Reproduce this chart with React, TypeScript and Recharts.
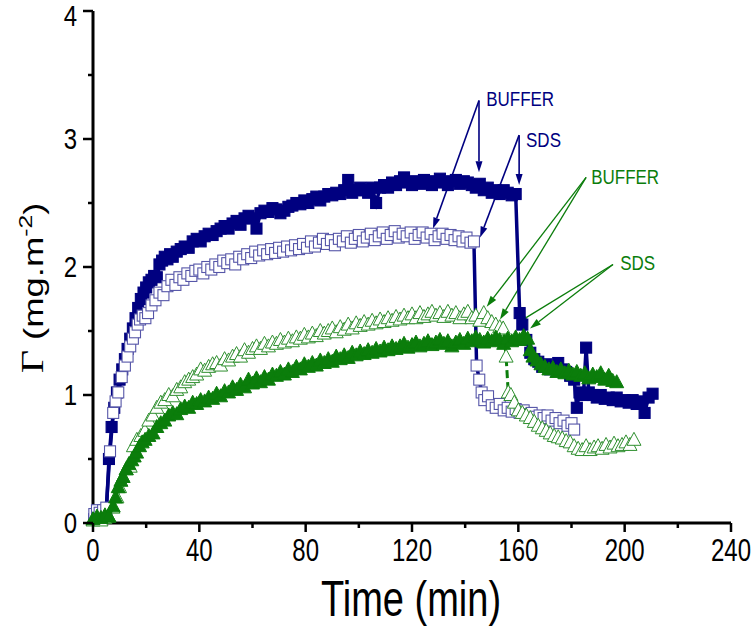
import { ComposedChart, Scatter, XAxis, YAxis, ReferenceLine, ReferenceDot } from "recharts";

const NAVY = "#000080";
const NAVY_LIGHT = "#5656a8";
const GREEN = "#0b7d0b";
const GREEN_LIGHT = "#2f8f2f";
const SANS = "'Liberation Sans', Arial, sans-serif";

// filled squares
const bfT = [0.5, 2, 3.5, 5, 6, 7, 8, 9, 10, 11, 12, 13, 14, 15, 16, 17, 18, 19, 20, 21, 22, 23, 24, 25, 26, 27, 28, 29, 30, 31.5, 33, 34.5, 36, 37.5, 39, 40.5, 42, 43.5, 45, 46.5, 48, 49.5, 51, 52.5, 54, 55.5, 57, 58.5, 60, 61.5, 63, 64.5, 66, 67.5, 69, 70.5, 72, 73.5, 75, 76.5, 78, 79.5, 81, 82.5, 84, 85.5, 87, 88.5, 90, 91.5, 93, 94.5, 96, 97.5, 99, 100.5, 102, 103.5, 105, 106.5, 108, 109.5, 111, 112.5, 114, 115.5, 117, 118.5, 120, 121.5, 123, 124.5, 126, 127.5, 129, 130.5, 132, 133.5, 135, 136.5, 138, 139.5, 141, 142.5, 144, 145.5, 147, 148.5, 150, 151.5, 153, 154.5, 156, 157.5, 159, 160.5, 161.5, 163, 164.5, 166, 167.5, 169, 170.5, 172, 173.5, 175, 176.5, 178, 179.5, 181, 182, 183, 184.5, 185.5, 186.5, 188, 189.5, 191, 192.5, 194, 195.5, 197, 198.5, 200, 201.5, 203, 204.5, 206, 207.5, 209, 210.5];
const bfV = [0.03, 0.05, 0.06, 0.08, 0.5, 0.75, 0.9, 1.02, 1.12, 1.2, 1.28, 1.36, 1.44, 1.52, 1.6, 1.68, 1.75, 1.8, 1.84, 1.88, 1.9, 1.93, 1.92, 2.02, 2.05, 2.08, 2.06, 2.1, 2.08, 2.12, 2.14, 2.16, 2.15, 2.2, 2.22, 2.2, 2.24, 2.26, 2.25, 2.28, 2.3, 2.32, 2.3, 2.34, 2.36, 2.33, 2.38, 2.4, 2.38, 2.3, 2.42, 2.44, 2.43, 2.46, 2.45, 2.42, 2.44, 2.47, 2.48, 2.5, 2.49, 2.52, 2.5, 2.53, 2.55, 2.52, 2.55, 2.57, 2.56, 2.58, 2.57, 2.6, 2.68, 2.58, 2.6, 2.62, 2.6, 2.58, 2.62, 2.5, 2.62, 2.64, 2.62, 2.66, 2.64, 2.67, 2.7, 2.66, 2.64, 2.67, 2.65, 2.68, 2.66, 2.64, 2.67, 2.69, 2.66, 2.64, 2.67, 2.68, 2.65, 2.67, 2.66, 2.64, 2.62, 2.65, 2.6, 2.62, 2.58, 2.6, 2.57, 2.6, 2.58, 2.56, 2.57, 1.64, 1.55, 1.43, 1.33, 1.28, 1.26, 1.22, 1.24, 1.2, 1.22, 1.25, 1.2, 1.18, 1.15, 1.12, 0.9, 1.02, 1.0, 1.37, 1.02, 1.0, 0.98, 1.0, 0.97, 0.98, 0.96, 0.98, 0.95, 0.96, 0.94, 0.96, 0.93, 0.95, 0.86, 0.98, 1.01];

// open squares
const boT = [0.5, 1.5, 2.5, 3.8, 5, 6.4, 7.6, 8.5, 9.5, 10.8, 12, 13, 14, 15, 15.8, 16.8, 17.7, 18.7, 19.7, 20.7, 22, 23.5, 25, 26.5, 28, 29.5, 31, 32.5, 34, 35.5, 37, 38.5, 40, 41.5, 43, 44.5, 46, 47.5, 49, 50.5, 52, 53.5, 55, 56.5, 58, 59.5, 61, 62.5, 64, 65.5, 67, 68.5, 70, 71.5, 73, 74.5, 76, 77.5, 79, 80.5, 82, 83.5, 85, 86.5, 88, 89.5, 91, 92.5, 94, 95.5, 97, 98.5, 100, 101.5, 103, 104.5, 106, 107.5, 109, 110.5, 112, 113.5, 115, 116.5, 118, 119.5, 121, 122.5, 124, 125.5, 127, 128.5, 130, 131.5, 133, 134.5, 136, 137.5, 139, 140.5, 142, 143.3, 144.3, 145.3, 146.2, 147.2, 148.6, 150, 151.5, 153, 154.5, 156, 157.5, 159, 160.5, 162, 163.5, 165, 166.5, 168, 169.5, 171, 172.5, 174, 175.5, 177, 178.5, 180, 181];
const boV = [0.07, 0.1, 0.08, 0.1, 0.12, 0.56, 0.86, 0.95, 1.02, 1.14, 1.23, 1.3, 1.38, 1.44, 1.49, 1.55, 1.59, 1.62, 1.6, 1.64, 1.7, 1.74, 1.8, 1.78, 1.85, 1.9, 1.86, 1.92, 1.9, 1.95, 1.93, 1.97, 1.98, 1.95, 2.0, 1.98, 2.02, 2.0, 2.05, 2.03, 2.06, 2.02, 2.08, 2.06, 2.1, 2.07, 2.12, 2.09, 2.13, 2.1, 2.14, 2.11, 2.15, 2.12, 2.16, 2.13, 2.17, 2.14, 2.18, 2.15, 2.2, 2.16, 2.19, 2.22, 2.18, 2.21, 2.17, 2.22, 2.2, 2.24, 2.19, 2.22, 2.25, 2.2, 2.23, 2.26, 2.21, 2.24, 2.27, 2.22, 2.25, 2.28, 2.23, 2.26, 2.24, 2.27, 2.22, 2.25, 2.27, 2.23, 2.26, 2.21, 2.24, 2.26, 2.22, 2.25, 2.21, 2.24, 2.2, 2.23, 2.19, 2.2, 1.23, 1.12, 1.02, 0.96, 0.99, 0.92, 0.9, 0.93, 0.88, 0.9, 0.87, 0.89, 0.86, 0.88, 0.85, 0.86, 0.83, 0.84, 0.82, 0.84, 0.8, 0.82, 0.78, 0.8, 0.76, 0.78, 0.73];

// open triangles
const goT = [0, 1.5, 3, 4.5, 6, 7.5, 9, 10, 11.3, 12.5, 14, 15.2, 16.5, 18, 19.5, 21, 22.5, 24, 25.5, 27, 28.5, 30, 31.5, 33, 34.5, 36, 37.5, 39, 40.5, 42, 43.5, 45, 46.5, 48, 49.5, 51, 52.5, 54, 55.5, 57, 58.5, 60, 61.5, 63, 64.5, 66, 67.5, 69, 70.5, 72, 73.5, 75, 76.5, 78, 79.5, 81, 82.5, 84, 85.5, 87, 88.5, 90, 91.5, 93, 94.5, 96, 97.5, 99, 100.5, 102, 103.5, 105, 106.5, 108, 109.5, 111, 112.5, 114, 115.5, 117, 118.5, 120, 121.5, 123, 124.5, 126, 127.5, 129, 130.5, 132, 133.5, 135, 136.5, 138, 139.5, 141, 142.5, 144, 145.5, 147, 148.5, 150, 151.5, 153, 154.3, 155.4, 156.2, 157.2, 158.5, 160, 161.5, 163, 164.5, 166, 167.5, 169, 170.5, 172, 173.5, 175, 176.5, 178, 179.5, 181, 182.5, 184, 185.5, 187, 188.5, 190, 191.5, 193, 194.5, 196, 197.5, 199, 200.5, 202, 203.5];
const goV = [0.02, 0.03, 0.02, 0.04, 0.05, 0.12, 0.2, 0.28, 0.36, 0.42, 0.44, 0.6, 0.65, 0.68, 0.72, 0.8, 0.84, 0.9, 0.94, 0.96, 1.0, 0.99, 1.04, 1.06, 1.1, 1.12, 1.14, 1.16, 1.2, 1.19, 1.22, 1.24, 1.25, 1.23, 1.28, 1.27, 1.3, 1.32, 1.3, 1.35, 1.33, 1.36, 1.38, 1.36, 1.4, 1.38, 1.41, 1.4, 1.43, 1.41, 1.44, 1.42, 1.45, 1.44, 1.47, 1.45, 1.48, 1.46, 1.5, 1.48, 1.5, 1.52, 1.49, 1.53, 1.51, 1.55, 1.52, 1.56, 1.54, 1.57, 1.55, 1.58, 1.56, 1.59, 1.57, 1.6, 1.58, 1.61, 1.59, 1.62, 1.6, 1.63, 1.6, 1.64, 1.61, 1.63, 1.65, 1.62, 1.64, 1.61, 1.65, 1.62, 1.64, 1.6, 1.63, 1.65, 1.6, 1.62, 1.58, 1.64, 1.6, 1.57, 1.55, 1.53, 1.52, 1.3, 1.02, 1.0, 0.94, 0.88, 0.86, 0.84, 0.82, 0.79, 0.76, 0.74, 0.72, 0.7, 0.68, 0.67, 0.66, 0.64, 0.63, 0.6, 0.58, 0.57, 0.6, 0.57, 0.59, 0.6, 0.58, 0.61, 0.59, 0.62, 0.6, 0.61, 0.63, 0.61, 0.65];

// filled triangles
const gfT = [0, 1.5, 3, 4.5, 6, 7.6, 8.5, 9.5, 10.5, 11.3, 12.5, 13.5, 14.6, 15.5, 16.4, 17.5, 18.5, 19.6, 21, 22.6, 24, 25.5, 27, 28.5, 30, 31.5, 33, 34.5, 36, 37.5, 39, 40.5, 42, 43.5, 45, 46.5, 48, 49.5, 51, 52.5, 54, 55.5, 57, 58.5, 60, 61.5, 63, 64.5, 66, 67.5, 69, 70.5, 72, 73.5, 75, 76.5, 78, 79.5, 81, 82.5, 84, 85.5, 87, 88.5, 90, 91.5, 93, 94.5, 96, 97.5, 99, 100.5, 102, 103.5, 105, 106.5, 108, 109.5, 111, 112.5, 114, 115.5, 117, 118.5, 120, 121.5, 123, 124.5, 126, 127.5, 129, 130.5, 132, 133.5, 135, 136.5, 138, 139.5, 141, 142.5, 144, 145.5, 147, 148.5, 150, 151.5, 153, 154.5, 156, 157.5, 159, 160.5, 162, 163.5, 164.5, 165.5, 167, 168.5, 170, 171.5, 173, 174.5, 176, 177.5, 179, 180.5, 182, 183.5, 185, 186.5, 188, 189.5, 191, 192.5, 194, 195.5, 197];
const gfV = [0.03, 0.05, 0.04, 0.06, 0.05, 0.13, 0.2, 0.28, 0.33, 0.36, 0.42, 0.46, 0.49, 0.52, 0.55, 0.6, 0.63, 0.65, 0.68, 0.7, 0.75, 0.78, 0.8, 0.84, 0.86, 0.85, 0.89, 0.91, 0.9, 0.94, 0.93, 0.96, 0.95, 0.98, 0.97, 1.01, 0.99, 1.03, 1.02, 1.06, 1.04, 1.08, 1.06, 1.12, 1.09, 1.13, 1.1, 1.14, 1.12, 1.16, 1.15, 1.18, 1.16, 1.2, 1.18, 1.22, 1.2, 1.24, 1.22, 1.25, 1.23, 1.27, 1.25, 1.28, 1.26, 1.3, 1.28, 1.31, 1.29, 1.33, 1.31, 1.34, 1.32, 1.35, 1.33, 1.36, 1.34, 1.37, 1.35, 1.38, 1.36, 1.38, 1.4, 1.37, 1.39, 1.41, 1.38, 1.4, 1.42, 1.39, 1.41, 1.43, 1.4, 1.42, 1.38, 1.41, 1.43, 1.4, 1.44, 1.42, 1.45, 1.43, 1.41, 1.44, 1.42, 1.45, 1.43, 1.4, 1.44, 1.42, 1.45, 1.43, 1.46, 1.44, 1.35, 1.3, 1.27, 1.24, 1.22, 1.2, 1.21, 1.18, 1.2, 1.17, 1.19, 1.16, 1.18, 1.15, 1.17, 1.13, 1.16, 1.14, 1.17, 1.12, 1.15, 1.11, 1.1];

const xTicks = [0, 20, 40, 60, 80, 100, 120, 140, 160, 180, 200, 220, 240];
const yTicks = [0, 0.5, 1, 1.5, 2, 2.5, 3, 3.5, 4];

// annotations: label position, arrow start, arrow tips (data coordinates)
const blueNotes = [
  { text: "BUFFER", at: [147.9, 3.31], from: [145.2, 3.3], tips: [[127.9, 2.3], [145.2, 2.74]] },
  { text: "SDS", at: [162.9, 2.99], from: [160.3, 3.03], tips: [[145.6, 2.23], [160.3, 2.64]] },
];
const greenNotes = [
  { text: "BUFFER", at: [187.4, 2.7], from: [185.5, 2.7], tips: [[148.1, 1.69], [153.1, 1.59]] },
  { text: "SDS", at: [198.3, 2.03], from: [195.6, 2.02], tips: [[159.4, 1.56], [164.4, 1.52]] },
];

const pts = (t: number[], v: number[]) => t.map((x, i) => ({ t: x, v: v[i] }));

const square = (fill: string, stroke: string) => (p: any) => (
  <rect x={p.cx - 5.5} y={p.cy - 5.5} width={11} height={11} fill={fill} stroke={stroke} strokeWidth={1.1} />
);
const triangle = (fill: string, stroke: string) => (p: any) => (
  <polygon
    points={`${p.cx},${p.cy - 7.5} ${p.cx - 7},${p.cy + 5.5} ${p.cx + 7},${p.cy + 5.5}`}
    fill={fill}
    stroke={stroke}
    strokeWidth={1}
  />
);

const arrow = (color: string, w: number) => (p: any) => {
  const { x1, y1, x2, y2 } = p;
  const dx = x2 - x1;
  const dy = y2 - y1;
  const len = Math.hypot(dx, dy) || 1;
  const ux = dx / len;
  const uy = dy / len;
  const bx = x2 - ux * 11;
  const by = y2 - uy * 11;
  return (
    <g>
      <line x1={x1} y1={y1} x2={bx} y2={by} stroke={color} strokeWidth={w} />
      <polygon points={`${x2},${y2} ${bx - uy * 3.5},${by + ux * 3.5} ${bx + uy * 3.5},${by - ux * 3.5}`} fill={color} />
    </g>
  );
};

const noteText = (text: string, color: string) => (p: any) => (
  <text
    transform={`translate(${p.cx},${p.cy}) scale(1,1.15)`}
    dy="0.355em"
    fontSize={17}
    fontFamily={SANS}
    fill={color}
  >
    {text}
  </text>
);

function XTick({ x, y, payload }: any) {
  const major = payload.value % 40 === 0;
  const ay = y - 16;
  return (
    <g>
      <line x1={x} x2={x} y1={ay} y2={ay + (major ? 9 : 5)} stroke="#000" strokeWidth={2.5} />
      {major && (
        <text transform={`translate(${x},${y}) scale(1,1.3)`} textAnchor="middle" dy="0.71em" fontSize={24} fontFamily={SANS} fill="#000">
          {payload.value}
        </text>
      )}
    </g>
  );
}

function YTick({ x, y, payload }: any) {
  const major = payload.value % 1 === 0;
  const ax = x + 16;
  const ty = payload.value === 4 ? y + 5 : y;
  return (
    <g>
      <line x1={ax} x2={ax - (major ? 10 : 5)} y1={y} y2={y} stroke="#000" strokeWidth={2.5} />
      {major && (
        <text transform={`translate(${x},${ty}) scale(1,1.2)`} textAnchor="end" dy="0.355em" fontSize={24} fontFamily={SANS} fill="#000">
          {payload.value}
        </text>
      )}
    </g>
  );
}

const XTitle = () => (
  <text transform="translate(411,616) scale(1,1.3)" textAnchor="middle" fontSize={38} fontFamily={SANS} fill="#000">
    Time (min)
  </text>
);

const YTitle = () => (
  <text transform="translate(43,288) rotate(-90) scale(1.3,1)" textAnchor="middle" fontSize={28} fontFamily={SANS} fill="#000">
    <tspan fontFamily="'Liberation Serif', 'Times New Roman', serif" fontSize={31}>Γ</tspan>
    <tspan> (mg.m</tspan>
    <tspan fontSize={19} dy={-11}>-2</tspan>
    <tspan dy={11}>)</tspan>
  </text>
);

export default function App() {
  return (
    <div style={{ position: "absolute", left: 0, top: 0, width: 751, height: 628, background: "#fff" }}>
      <ComposedChart width={751} height={628} margin={{ top: 11, right: 20, left: 0, bottom: 0 }}>
        <XAxis
          type="number"
          dataKey="t"
          domain={[0, 240]}
          ticks={xTicks}
          interval={0}
          height={105}
          tickSize={9}
          tickMargin={7}
          tickLine={false}
          axisLine={{ stroke: "#000", strokeWidth: 3 }}
          tick={<XTick />}
          label={{ content: () => <XTitle /> }}
        />
        <YAxis
          type="number"
          dataKey="v"
          domain={[0, 4]}
          ticks={yTicks}
          interval={0}
          width={93}
          tickSize={10}
          tickMargin={6}
          tickLine={false}
          axisLine={{ stroke: "#000", strokeWidth: 3 }}
          tick={<YTick />}
          label={{ content: () => <YTitle /> }}
        />
        <Scatter
          data={pts(bfT, bfV)}
          dataKey="v"
          line={{ stroke: NAVY, strokeWidth: 3.5 }}
          shape={square(NAVY, NAVY)}
          isAnimationActive={false}
        />
        <Scatter
          data={pts(boT, boV)}
          dataKey="v"
          line={{ stroke: NAVY, strokeWidth: 3.5 }}
          shape={square("#fff", NAVY_LIGHT)}
          isAnimationActive={false}
        />
        <Scatter
          data={pts(goT, goV)}
          dataKey="v"
          line={{ stroke: GREEN, strokeWidth: 3, strokeDasharray: "8 4" }}
          shape={triangle("#fff", GREEN_LIGHT)}
          isAnimationActive={false}
        />
        <Scatter
          data={pts(gfT, gfV)}
          dataKey="v"
          line={{ stroke: GREEN, strokeWidth: 3 }}
          shape={triangle(GREEN, GREEN)}
          isAnimationActive={false}
        />
        {blueNotes.flatMap((n, i) =>
          n.tips.map((tip, j) => (
            <ReferenceLine
              key={`b${i}${j}`}
              segment={[{ x: n.from[0], y: n.from[1] }, { x: tip[0], y: tip[1] }]}
              shape={arrow(NAVY, 1.6)}
              ifOverflow="visible"
            />
          ))
        )}
        {greenNotes.flatMap((n, i) =>
          n.tips.map((tip, j) => (
            <ReferenceLine
              key={`g${i}${j}`}
              segment={[{ x: n.from[0], y: n.from[1] }, { x: tip[0], y: tip[1] }]}
              shape={arrow(GREEN, 1.3)}
              ifOverflow="visible"
            />
          ))
        )}
        {blueNotes.map((n, i) => (
          <ReferenceDot key={`bt${i}`} x={n.at[0]} y={n.at[1]} r={0} shape={noteText(n.text, NAVY)} ifOverflow="visible" />
        ))}
        {greenNotes.map((n, i) => (
          <ReferenceDot key={`gt${i}`} x={n.at[0]} y={n.at[1]} r={0} shape={noteText(n.text, GREEN)} ifOverflow="visible" />
        ))}
      </ComposedChart>
    </div>
  );
}
